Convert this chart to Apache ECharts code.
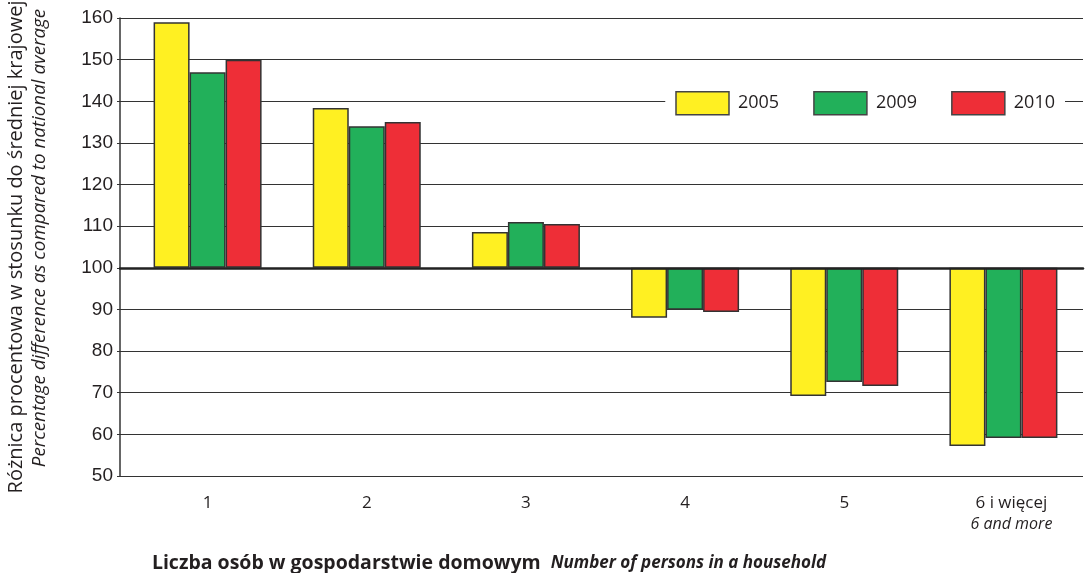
<!DOCTYPE html>
<html><head><meta charset="utf-8">
<script src="https://cdn.jsdelivr.net/npm/echarts@6/dist/echarts.min.js"></script>
<style>html,body{margin:0;padding:0;background:#fff}#c{width:1086px;height:573px}</style>
</head><body><div id="c"></div>
<script>
const categories = ['1', '2', '3', '4', '5', '6 i więcej'];
const categoriesEn = ['', '', '', '', '', '6 and more'];
const seriesNames = ['2005', '2009', '2010'];
const values2005 = [159.0, 138.4, 108.6, 88.0, 69.2, 57.2];
const values2009 = [147.0, 134.0, 111.0, 89.9, 72.6, 59.1];
const values2010 = [150.0, 135.0, 110.5, 89.4, 71.6, 59.1];
const yTicks = [50, 60, 70, 80, 90, 100, 110, 120, 130, 140, 150, 160];
const baseline = 100;
const colors = ['#FFF022', '#22B05A', '#EE2E37'];

const allValues = [values2005, values2009, values2010];
const yMin = yTicks[0] - baseline, yMax = yTicks[yTicks.length - 1] - baseline;
const yStep = yTicks[1] - yTicks[0];

const F = '"Open Sans", "Noto Sans", sans-serif';
const chart = echarts.init(document.getElementById('c'), null, {renderer: 'canvas'});
const gridTop = 18, gridBottom = 97;
chart.setOption({
  animation: false,
  grid: [
    {left: 120, right: 3, top: gridTop, bottom: gridBottom},
    {left: 128, right: 3, top: gridTop, bottom: gridBottom}
  ],
  xAxis: [
    {gridIndex: 0, type: 'category', data: categories,
     axisLine: {show: true, onZero: true, lineStyle: {color: '#222', width: 2.5}},
     axisTick: {show: false}, axisLabel: {show: false}, splitLine: {show: false}, z: 5},
    {gridIndex: 1, type: 'category', data: categories,
     axisLine: {show: false, onZero: false}, axisTick: {show: false},
     axisLabel: {
       margin: 17,
       formatter: function (v, i) {
         return categoriesEn[i] ? '{c|' + v + '}\n{d|' + categoriesEn[i] + '}' : '{a|' + v + '}';
       },
       rich: {
         a: {fontFamily: F, fontSize: 17, color: '#231f20', lineHeight: 21},
         c: {fontFamily: F, fontSize: 17, color: '#231f20', lineHeight: 21, padding: [0, 0, 0, 16]},
         d: {fontFamily: F, fontSize: 16, fontStyle: 'italic', color: '#231f20', lineHeight: 21, padding: [0, 0, 0, 16]}
       }
     }}
  ],
  yAxis: [
    {gridIndex: 0, type: 'value', min: yMin, max: yMax, interval: yStep,
     axisLine: {show: true, lineStyle: {color: '#333', width: 1.5}},
     axisTick: {show: true, length: 3, lineStyle: {color: '#333'}},
     axisLabel: {formatter: v => String(v + baseline), fontFamily: '"Liberation Sans", Arial, sans-serif', fontSize: 19, color: '#231f20', margin: 7},
     splitLine: {show: true, lineStyle: {color: '#333', width: 1.2}}},
    {gridIndex: 1, type: 'value', min: yMin, max: yMax, interval: yStep, show: false, splitLine: {show: false}}
  ],
  legend: {
    data: seriesNames, right: 21, top: 89, itemWidth: 53, itemHeight: 23, itemGap: 34, icon: 'rect',
    backgroundColor: '#fff', padding: [2, 10, 2, 10],
    textStyle: {fontFamily: F, fontSize: 18, color: '#231f20', padding: [0, 0, 0, 4]},
    itemStyle: {borderColor: '#444', borderWidth: 1.5}
  },
  series: seriesNames.map((name, k) => ({
    name: name, type: 'bar', xAxisIndex: 1, yAxisIndex: 1,
    data: allValues[k].map(v => +(v - baseline).toFixed(2)),
    barWidth: 36, barGap: '0%',
    itemStyle: {color: colors[k], borderColor: '#333', borderWidth: 1.5}
  })),
  graphic: [
    {type: 'text', x: 16, y: 247, rotation: Math.PI / 2,
     style: {text: 'Różnica procentowa w stosunku do średniej krajowej', font: '20px "Open Sans", sans-serif', fill: '#231f20', textAlign: 'center', textVerticalAlign: 'middle'}},
    {type: 'text', x: 40, y: 238, rotation: Math.PI / 2,
     style: {text: 'Percentage difference as compared to national average', font: 'italic 18.8px "Open Sans", sans-serif', fill: '#231f20', textAlign: 'center', textVerticalAlign: 'middle'}},
    {type: 'text', x: 489, y: 563,
     style: {text: '{a|Liczba osób w gospodarstwie domowym}{s| }{b|Number of persons in a household}',
       textAlign: 'center', textVerticalAlign: 'middle',
       rich: {
         a: {fontFamily: F, fontWeight: 'bold', fontSize: 19.5, fill: '#231f20'},
         s: {width: 10, fontSize: 17},
         b: {fontFamily: F, fontWeight: 'bold', fontStyle: 'italic', fontSize: 17, fill: '#231f20'}
       }}}
  ]
});
</script></body></html>
